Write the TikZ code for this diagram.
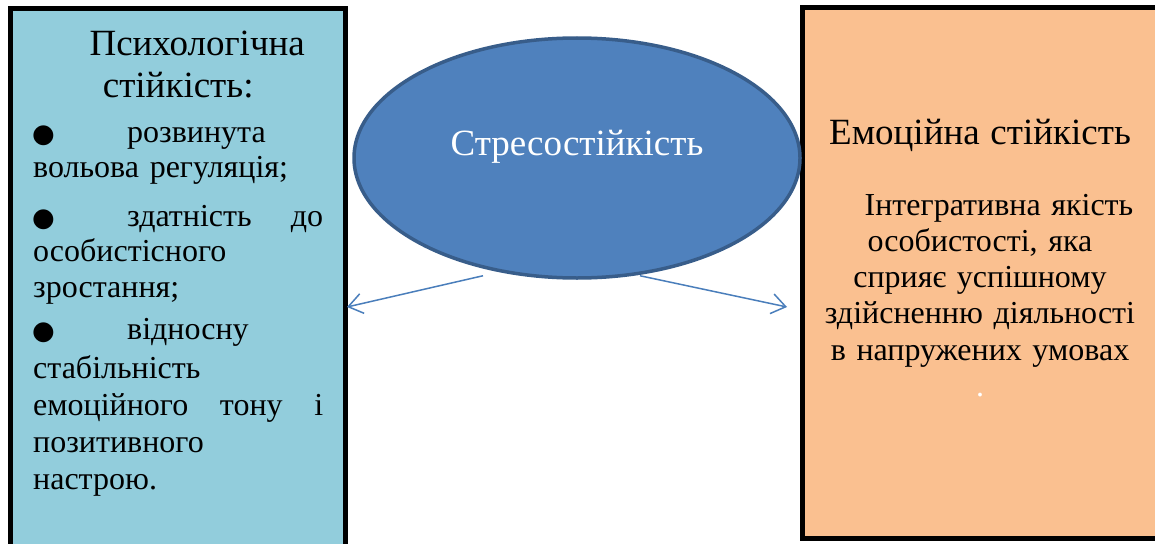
\documentclass[tikz,border=0pt]{standalone}
\usepackage{fontspec}
\usepackage{graphicx}
\setmainfont{Liberation Serif}
\newfontfamily\bulfont{DejaVu Sans}
\usetikzlibrary{shapes.geometric,arrows.meta}
\definecolor{lblue}{HTML}{92CDDC}
\definecolor{lorange}{HTML}{FAC090}
\definecolor{efill}{HTML}{4F81BD}
\definecolor{eline}{HTML}{385D8A}
\definecolor{arrc}{HTML}{4A7EBB}
\newcommand\titlefont{\fontsize{37}{42}\selectfont}
\newcommand\bodyfont{\fontsize{32}{36}\selectfont\lineskiplimit=-100pt\lineskip=0pt}
\newcommand\bulmark{\makebox[94pt][l]{\hspace{-1pt}{\bulfont\fontsize{26}{26}\selectfont ●}}}
\tikzset{
  box/.style={draw=black, line width=5pt, rectangle, inner sep=0pt},
  txt/.style={inner sep=0pt, font=\bodyfont},
  conn/.style={draw=arrc, line width=1.5pt, -{Straight Barb[length=14pt,width=20pt,line width=1.5pt]}},
}
\begin{document}
\begin{tikzpicture}[x=1pt,y=-1pt]
\useasboundingbox (0,0) rectangle (1155,543);
\node[box, fill=lblue, minimum width=335pt, minimum height=540pt] (L) at (178,278.5) {};
\node[box, fill=lorange, minimum width=355.5pt, minimum height=531pt] (R) at (980.25,273) {};
\node[ellipse, draw=eline, line width=3.5pt, fill=efill, minimum width=446pt, minimum height=240pt,
      inner sep=0pt, text=white, font=\fontsize{37}{40}\selectfont, text height=10pt, text depth=16pt] (S) at (577,158) {Стресостійкість};
\node[txt, text width=290pt, align=left, anchor=base west] (LT) at (33,56) {%
  {\titlefont\lineskiplimit=-100pt\lineskip=0pt\centering\hspace*{38pt}Психологічна\\стійкість:\par}%
  \vspace{9pt}%
  \bodyfont
  \bulmark розвинута\\[-2pt]
  вольова регуляція;\par\vspace{13pt}
  \makebox[290pt][l]{\bulmark здатність\hfill до}\\[-1pt]
  особистісного\\
  зростання;\par\vspace{6pt}
  \bulmark відносну\\[3pt]
  стабільність\\[1pt]
  \makebox[290pt][l]{емоційного\hfill тону\hfill і}\\[1pt]
  позитивного\\[1pt]
  настрою.\par
};
\node[txt, text width=330pt, align=center, anchor=base] (RT) at (980,144) {%
  {\titlefont Емоційна стійкість\par}%
  \vspace{35pt}%
  \bodyfont
  \hspace*{38pt}Інтегративна якість\\
  особистості, яка\\
  сприяє успішному\\
  здійсненню діяльності\\[1pt]
  в напружених умовах\\
  {\color{white}.}\par
};
\coordinate (LE) at (347,307);
\coordinate (RE) at (787,307);
\draw[conn] ([xshift=-94pt,yshift=4pt]S.south) -- (LE);
\draw[conn] ([xshift=63pt,yshift=4pt]S.south) -- (RE);
\end{tikzpicture}
\end{document}
